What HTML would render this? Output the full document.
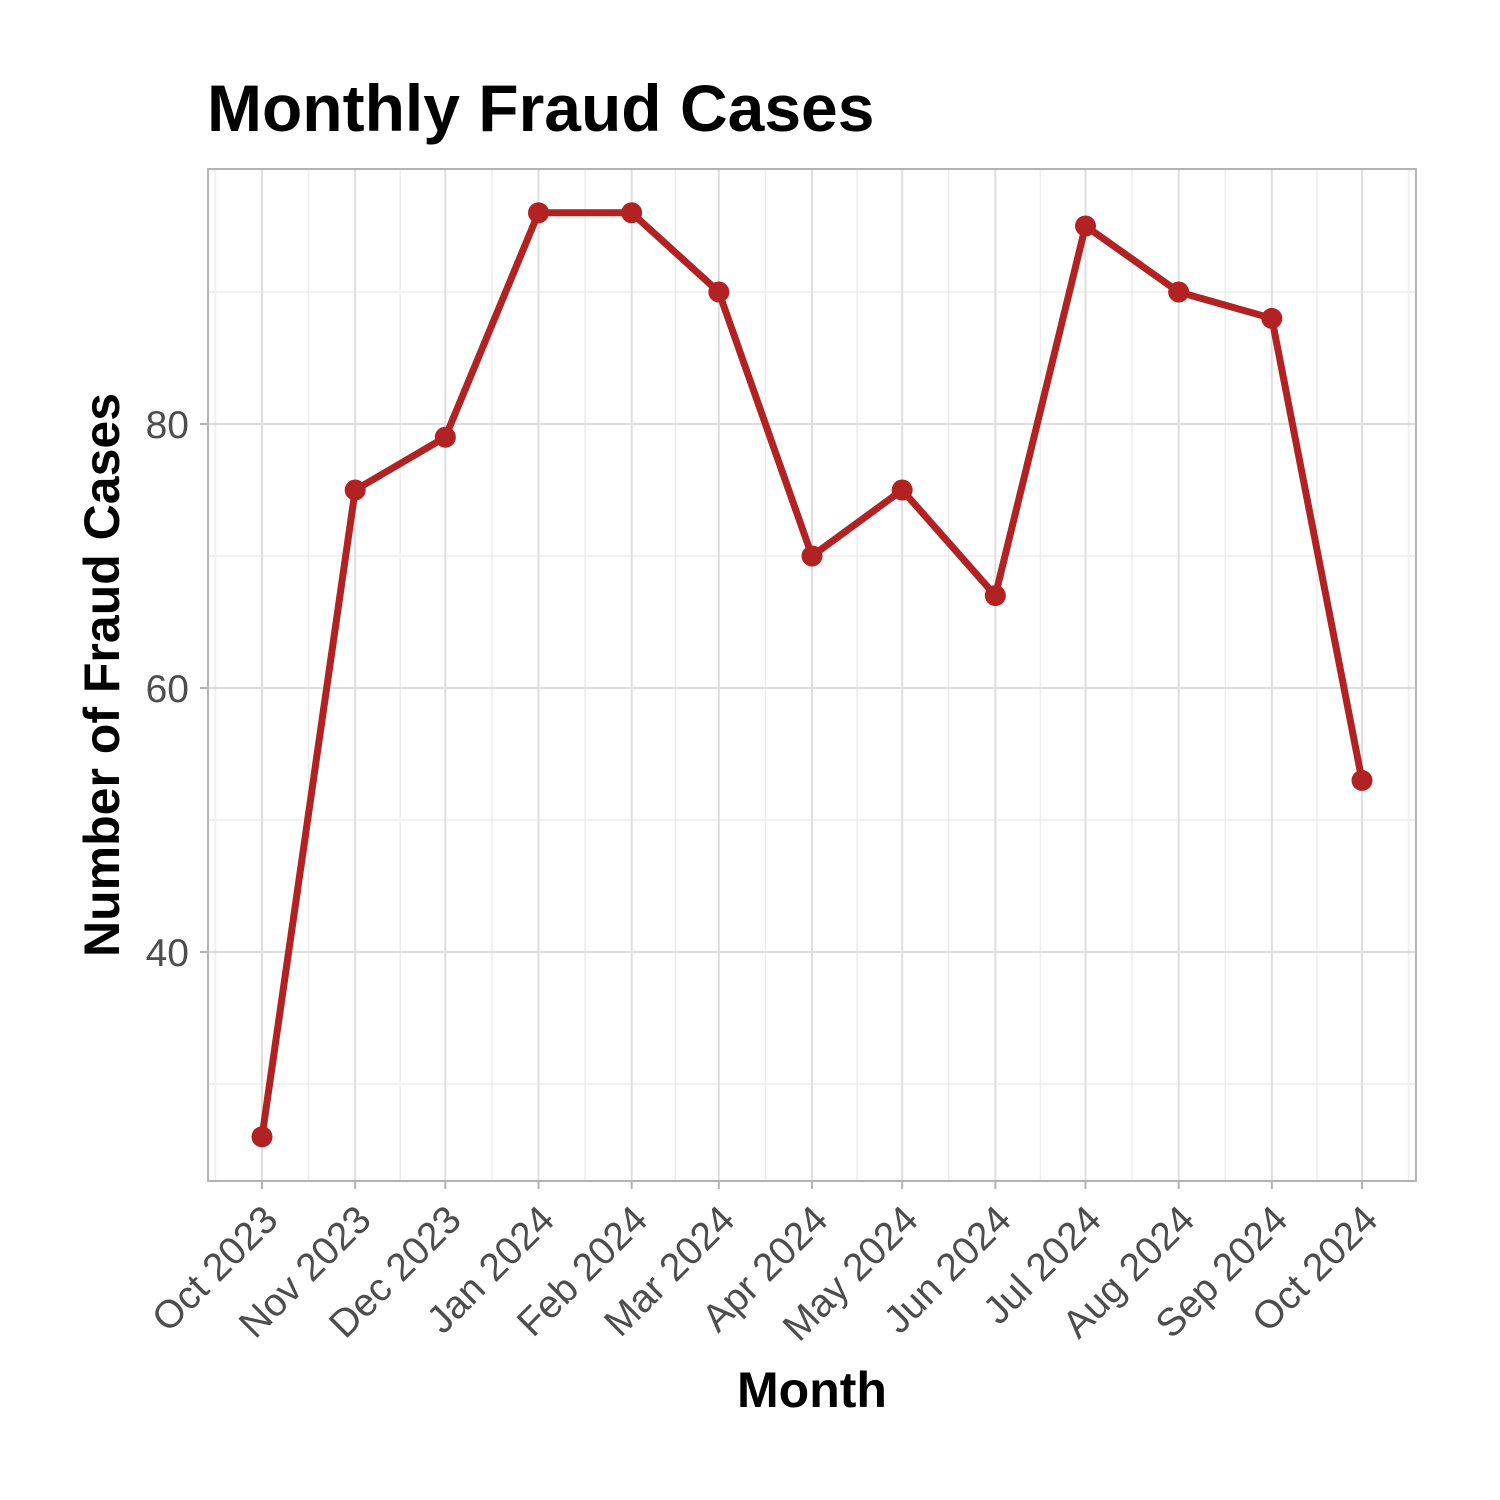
<!DOCTYPE html>
<html><head><meta charset="utf-8"><style>body{margin:0;background:#fff}svg{display:block;font-family:"Liberation Sans",sans-serif}</style></head>
<body>
<svg id="chart" width="1500" height="1500" xmlns="http://www.w3.org/2000/svg">
<rect width="1500" height="1500" fill="#fff"/>
<text x="207" y="131" font-size="66" font-weight="bold">Monthly Fraud Cases</text>
<g id="grid"></g>
<g id="series"></g>
<rect x="208" y="169" width="1208" height="1012" fill="none" stroke="#b3b3b3" stroke-width="2"/>
<g id="axes"></g>
<text x="812" y="1407" font-size="50" font-weight="bold" text-anchor="middle">Month</text>
<text transform="translate(119,675) rotate(-90)" font-size="50" font-weight="bold" text-anchor="middle">Number of Fraud Cases</text>
</svg>
<script>
const months = ["Oct 2023","Nov 2023","Dec 2023","Jan 2024","Feb 2024","Mar 2024","Apr 2024","May 2024","Jun 2024","Jul 2024","Aug 2024","Sep 2024","Oct 2024"];
const dates = [[2023,9],[2023,10],[2023,11],[2024,0],[2024,1],[2024,2],[2024,3],[2024,4],[2024,5],[2024,6],[2024,7],[2024,8],[2024,9]];
const cases = [26,75,79,96,96,90,70,75,67,95,90,88,53];
const yTicks = [40,60,80];
const yMinor = [30,50,70,90];
const NS="http://www.w3.org/2000/svg";
const t0=Date.UTC(2023,9,1);
function dayOf(d){return (Date.UTC(d[0],d[1],1)-t0)/86400000;}
function xs(days){return 262+days*(1100/366);}
function ys(v){return 424-(v-80)*13.2;}
function mk(tag,attrs,parent){const e=document.createElementNS(NS,tag);for(const k in attrs)e.setAttribute(k,attrs[k]);parent.appendChild(e);return e;}
const grid=document.getElementById('grid'),series=document.getElementById('series'),axes=document.getElementById('axes');
yMinor.forEach(v=>{const l=mk('line',{x1:208,x2:1416,y1:ys(v),y2:ys(v),stroke:'#ededed','stroke-width':1.5},grid);

});
const dx=dates.map(dayOf);
const minors=[];
for(let i=0;i<dx.length-1;i++)minors.push((dx[i]+dx[i+1])/2);
minors.unshift(dx[0]-(dx[1]-dx[0])/2);minors.push(dx[dx.length-1]+(dx[1]-dx[0])/2);
minors.forEach(d=>{const x=xs(d);if(x<208||x>1416)return;const l=mk('line',{x1:x,x2:x,y1:169,y2:1181,stroke:'#ededed','stroke-width':1.5},grid);

});
yTicks.forEach(v=>{const y=ys(v);const l=mk('line',{x1:208,x2:1416,y1:y,y2:y,stroke:'#dedede','stroke-width':2},grid);


const tk=mk('line',{x1:200,x2:208,y1:y,y2:y,stroke:'#b3b3b3','stroke-width':2},axes);


const t=mk('text',{x:189,y:y+14,'font-size':39,fill:'#4d4d4d','text-anchor':'end'},axes);t.textContent=v;

});
months.forEach((m,i)=>{const x=xs(dx[i]);const l=mk('line',{x1:x,x2:x,y1:169,y2:1181,stroke:'#dedede','stroke-width':2},grid);


const tk=mk('line',{x1:x,x2:x,y1:1181,y2:1189,stroke:'#b3b3b3','stroke-width':2},axes);


const t=mk('text',{transform:`translate(${x+18},${1222}) rotate(-45)`,'font-size':39,fill:'#4d4d4d','text-anchor':'end'},axes);t.textContent=m;

});
const pts=cases.map((v,i)=>[xs(dx[i]),ys(v)]);
const pl=mk('polyline',{points:pts.map(p=>p.join(',')).join(' '),fill:'none',stroke:'#b22222','stroke-width':7,'stroke-linejoin':'round'},series);


pts.forEach(p=>{const c=mk('circle',{cx:p[0],cy:p[1],r:10.5,fill:'#b22222'},series);

});
</script>
</body></html>
